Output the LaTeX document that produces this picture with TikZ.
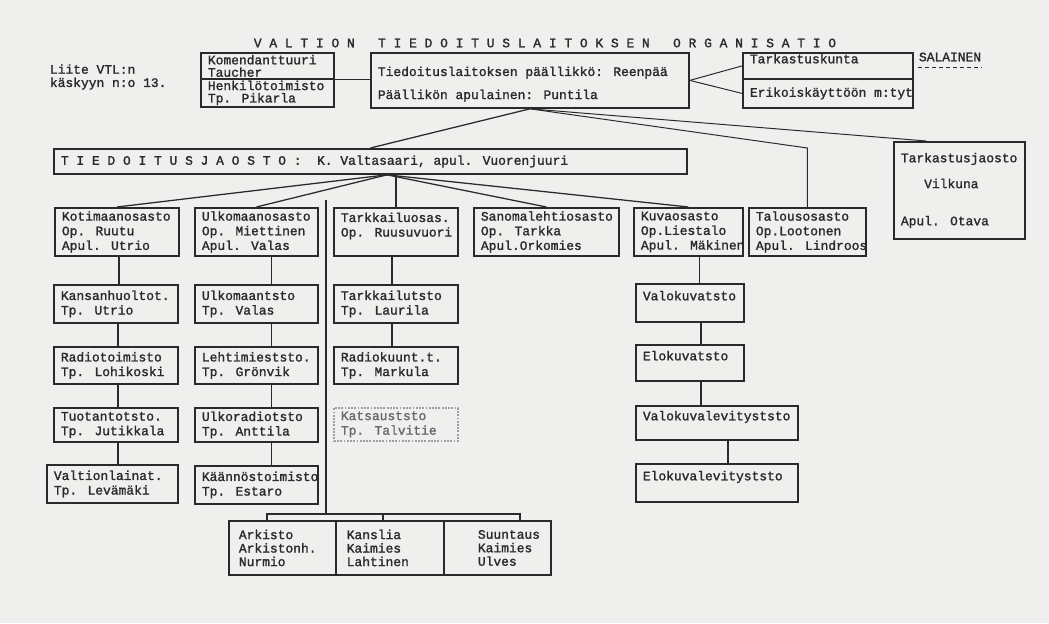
\documentclass[tikz,border=0pt]{standalone}
\usepackage{fontspec}
\newfontfamily\tw[FakeBold=1.5]{Liberation Mono}
\usetikzlibrary{calc,shapes.multipart}
\definecolor{paper}{RGB}{239,239,237}
\definecolor{ink}{RGB}{42,42,42}

\begin{document}
\begin{tikzpicture}[x=0.025cm, y=-0.025cm,
	every node/.style={font={\tw\fontsize{9.2}{10.4}\selectfont}, text=ink},
	box/.code 2 args={\pgfmathsetlengthmacro\bw{#1*0.025cm}%
		\pgfmathsetlengthmacro\bt{(#1-14)*0.025cm}%
		\pgfmathsetlengthmacro\bh{#2*0.025cm}%
		\tikzset{draw=ink, line width=1.3pt, anchor=north west, align=flush left,
			inner xsep=0.175cm, inner ysep=0pt,
			minimum width=\bw, text width=\bt, minimum height=\bh}},
	tight/.style={font={\tw\fontsize{9.2}{8.8}\selectfont}},
	faint/.style={draw=ink!45, densely dotted, text=ink!70},
	arch/.style={rectangle split, rectangle split parts=3,
		rectangle split horizontal, draw=ink, line width=1.3pt,
		anchor=north west, align=flush left, text width=2.15cm,
		inner xsep=0.25cm, inner ysep=0.22cm,
		font={\tw\fontsize{9.2}{9.6}\selectfont}},
	link/.style={draw=ink, line width=0.9pt},
	thin/.style={draw=ink, line width=0.7pt}]

	\useasboundingbox[fill=paper] (0,0) rectangle (1049,623);

	\node (title) at (545,43) {V A L T I O N~~~T I E D O I T U S L A I T O K S E N~~~O R G A N I S A T I O};
	\node[anchor=west, align=flush left, font={\tw\fontsize{9.2}{9.4}\selectfont}] (liite) at (45,77) {Liite VTL:n\\käskyyn n:o 13.};

	\node[box={133}{26}, tight] (komA) at (200,52) {Komendanttuuri\\Taucher};
	\node[box={133}{28}, tight] (komB) at (200,78) {Henkilötoimisto\\Tp. Pikarla};
	\node[box={318}{55}] (main) at (370,52) {\rule{0pt}{12pt}Tiedoituslaitoksen päällikkö: Reenpää\\[6pt]Päällikön apulainen: Puntila};
	\node[box={170}{26}] (tkA) at (742,52) {Tarkastuskunta\\~};
	\node[box={170}{29}] (tkB) at (742,78) {\mbox{Erikoiskäyttöön m:tyt}};
	\node[anchor=west] (salainen) at (914,57) {SALAINEN};
	\draw[ink, densely dashed, line width=1pt] ($(salainen.south west)+(4,1)$) -- ($(salainen.south east)+(-4,1)$);

	\node[box={633}{25}] (tj) at (53,148) {T I E D O I T U S J A O S T O :~~K. Valtasaari, apul. Vuorenjuuri};
	\node[box={131}{97}] (tarkj) at (893,141) {\mbox{Tarkastusjaosto}\\[8pt]~~~Vilkuna\\[16pt]Apul. Otava};

	\node[box={124}{48}] (koti) at (54,207) {Kotimaanosasto\\Op. Ruutu\\Apul. Utrio};
	\node[box={123}{48}] (ulko) at (194,207) {Ulkomaanosasto\\Op. Miettinen\\Apul. Valas};
	\node[box={124}{48}] (tarkk) at (333,207) {Tarkkailuosas.\\\mbox{Op. Ruusuvuori}\\~};
	\node[box={145}{48}] (sanoma) at (473,207) {\mbox{Sanomalehtiosasto}\\Op. Tarkka\\Apul.Orkomies};
	\node[box={109}{48}] (kuva) at (633,207) {Kuvaosasto\\Op.Liestalo\\\mbox{Apul. Mäkinen}};
	\node[box={117}{48}] (talous) at (748,207) {Talousosasto\\Op.Lootonen\\\mbox{Apul. Lindroos}};

	\node[box={124}{38}] (kans) at (53,284) {Kansanhuoltot.\\Tp. Utrio};
	\node[box={124}{37}] (radio) at (53,346) {Radiotoimisto\\Tp. Lohikoski};
	\node[box={124}{34}] (tuot) at (53,407) {Tuotantotsto.\\Tp. Jutikkala};
	\node[box={131}{38}] (valt) at (46,464) {Valtionlainat.\\Tp. Levämäki};

	\node[box={123}{38}] (ulkm) at (194,284) {Ulkomaantsto\\Tp. Valas};
	\node[box={123}{37}] (lehti) at (194,346) {Lehtimieststo.\\Tp. Grönvik};
	\node[box={123}{34}] (ulkr) at (194,407) {Ulkoradiotsto\\Tp. Anttila};
	\node[box={123}{38}] (kaan) at (194,465) {\mbox{Käännöstoimisto}\\Tp. Estaro};

	\node[box={124}{38}] (tkl) at (333,284) {Tarkkailutsto\\Tp. Laurila};
	\node[box={124}{37}] (rkuu) at (333,346) {Radiokuunt.t.\\Tp. Markula};
	\node[box={124}{33}, faint] (kats) at (333,407) {Katsauststo\\Tp. Talvitie};

	\node[box={108}{38}] (vkuva) at (635,283) {Valokuvatsto\\~};
	\node[box={108}{36}] (ekuva) at (635,344) {Elokuvatsto\\~};
	\node[box={162}{34}] (vlev) at (635,405) {Valokuvalevityststo\\~};
	\node[box={162}{38}] (elev) at (635,463) {Elokuvalevityststo\\~};

	\node[arch] (arch) at (228,520) {Arkisto\\Arkistonh.\\Nurmio
		\nodepart{two} Kanslia\\Kaimies\\Lahtinen
		\nodepart{three} ~~~Suuntaus\\~~~Kaimies\\~~~Ulves};

	\draw[link] (komA.south east) -- (komA.south east -| main.west);
	\draw[thin] (main.east) -- (tkA.west);
	\draw[thin] (main.east) -- (tkB.west);
	\draw[link] (main.south) -- (tj.north);
	\draw[thin] (main.south) -- (talous.north |- tj.north) -- (talous.north);
	\draw[thin] (main.south) -- ($(tarkj.north west)!0.25!(tarkj.north east)$);

	\coordinate (hub) at ($(tj.south west)!0.526!(tj.south east)$);
	\foreach \n in {koti,ulko,sanoma,kuva}
		\draw[link] (hub) -- (\n.north);
	\draw[link] (tarkk.north) -- (tarkk.north |- hub);

	\foreach \a/\b/\s in {koti/kans/2, kans/radio/2, radio/tuot/2, tuot/valt/2,
		ulko/ulkm/15, ulkm/lehti/15, lehti/ulkr/15, ulkr/kaan/15,
		tarkk/tkl/-4, tkl/rkuu/-4,
		kuva/vkuva/11, vkuva/ekuva/11, ekuva/vlev/11, vlev/elev/11}
		\draw[link] ($(\a.south)+(\s,0)$) -- ($(\a.south |- \b.north)+(\s,0)$);

	\coordinate (arktop) at (326,200);
	\coordinate (brl) at (267,514);
	\coordinate (brm) at (383,514);
	\coordinate (brr) at (520,514);
	\draw[link] (arktop) -- (arktop |- brl);
	\draw[link] (brl |- arch.north) -- (brl) -- (brr) -- (brr |- arch.north);
	\draw[link] (brm) -- (brm |- arch.north);
\end{tikzpicture}
\end{document}
